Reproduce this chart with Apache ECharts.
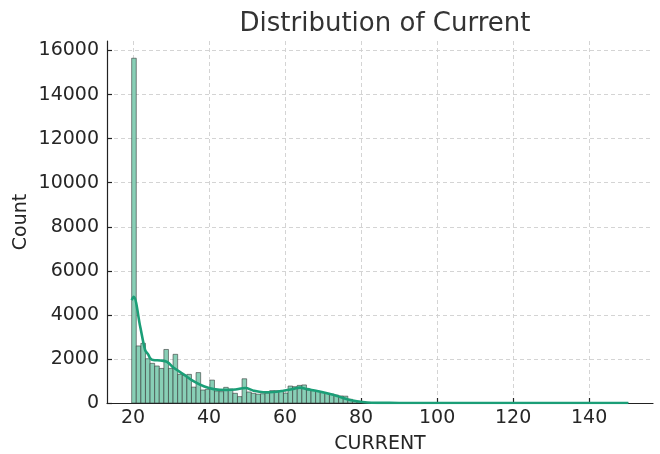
<!DOCTYPE html>
<html><head><meta charset="utf-8">
<script src="https://cdn.jsdelivr.net/npm/echarts@6/dist/echarts.min.js"></script>
<style>html,body{margin:0;padding:0;background:#fff}#c{width:660px;height:454px}</style>
</head><body><div id="c"></div>
<script>
const binStart = 19.65;
const binWidth = 1.21;
const counts = [15650, 2590, 2710, 2010, 1800, 1680, 1570, 2430, 1570, 2210,
  1300, 1260, 1300, 720, 1380, 590, 620, 1040, 545, 515,
  710, 635, 440, 290, 1100, 500, 440, 400, 420, 450,
  560, 560, 540, 450, 770, 740, 800, 820, 590, 560,
  530, 470, 440, 400, 360, 320, 310, 170, 90, 50,
  30, 20, 12, 8, 6, 5, 4, 4, 3, 3,
  3, 2, 2, 2, 2, 2, 2, 1, 1, 1,
  1, 1, 1, 1, 1, 1, 1, 1, 1, 1,
  1, 1, 1, 1, 1, 1, 1, 1, 1, 1,
  1, 1, 1, 1, 1, 1, 1, 1, 1, 1,
  1, 1, 1, 1, 1, 1, 1, 1];
const kdeX = [19.65, 20.16, 21.9, 23.2, 24.0, 24.55, 25.3, 27.2, 28.95, 30.7,
  33.3, 35.9, 38.6, 41.2, 44.7, 46.9, 49.55, 51.7, 54.3, 56.9,
  59.55, 62.2, 63.9, 65.8, 68.4, 71.05, 73.7, 76.3, 78.9, 81.6,
  85, 90, 100, 110, 120, 130, 140, 150.3];
const kdeY = [4670, 4820, 3460, 2400, 2200, 2030, 1950, 1930, 1870, 1600,
  1300, 990, 760, 630, 590, 610, 680, 560, 490, 500,
  560, 640, 700, 630, 545, 440, 320, 170, 80, 20,
  6, 3, 2, 2, 2, 2, 2, 2];
const xTicks = [20, 40, 60, 80, 100, 120, 140];
const yTicks = [0, 2000, 4000, 6000, 8000, 10000, 12000, 14000, 16000];

const FONT = 'DejaVu Sans';
const chart = echarts.init(document.getElementById('c'), null, {renderer: 'canvas'});
const barData = counts.map((c, i) => [binStart + i * binWidth, binStart + (i + 1) * binWidth, c]);
const lineData = kdeX.map((x, i) => [x, kdeY[i]]);
const plain = v => String(Math.round(v));

chart.setOption({
  animation: false,
  backgroundColor: '#fff',
  title: {
    text: 'Distribution of Current',
    left: 380, top: 6, textAlign: 'center',
    textStyle: {fontFamily: FONT, fontSize: 26, fontWeight: 'normal', color: '#333'}
  },
  grid: {left: 107, right: 7, top: 41, bottom: 51, containLabel: false, outerBoundsMode: 'none'},
  xAxis: {
    type: 'value', min: 13.16, max: 156.8,
    name: 'CURRENT', nameLocation: 'middle', nameGap: 32, nameMoveOverlap: false,
    nameTextStyle: {fontFamily: FONT, fontSize: 19, color: '#262626'},
    axisLine: {show: true, onZero: false, lineStyle: {color: '#222', width: 1.2}},
    axisTick: {show: true, inside: true, length: 5, customValues: xTicks, lineStyle: {color: '#222', width: 1.2}},
    axisLabel: {customValues: xTicks, formatter: plain, fontFamily: FONT, fontSize: 19, color: '#262626', margin: 6},
    splitLine: {show: true, lineStyle: {color: '#cfcfcf', type: [4, 3], width: 0.9}}
  },
  yAxis: {
    type: 'value', min: 0, max: 16432,
    name: 'Count', nameLocation: 'middle', nameGap: 76, nameMoveOverlap: false,
    nameTextStyle: {fontFamily: FONT, fontSize: 19, color: '#262626'},
    axisLine: {show: true, lineStyle: {color: '#222', width: 1.2}},
    axisTick: {show: true, inside: true, length: 5, customValues: yTicks, lineStyle: {color: '#222', width: 1.2}},
    axisLabel: {customValues: yTicks, formatter: plain, fontFamily: FONT, fontSize: 19, color: '#262626', margin: 8},
    splitLine: {show: true, lineStyle: {color: '#cfcfcf', type: [4, 3], width: 0.9}}
  },
  series: [
    {
      type: 'custom',
      data: barData,
      encode: {x: [0, 1], y: 2},
      z: 2,
      renderItem: function (params, api) {
        const p0 = api.coord([api.value(0), api.value(2)]);
        const p1 = api.coord([api.value(1), 0]);
        return {
          type: 'rect',
          shape: {x: p0[0], y: p0[1], width: p1[0] - p0[0], height: p1[1] - p0[1]},
          style: {fill: '#88cfb6', stroke: 'rgba(45,45,45,0.8)', lineWidth: 0.7}
        };
      }
    },
    {
      type: 'line',
      data: lineData,
      smooth: 0.35,
      symbol: 'none',
      z: 3,
      lineStyle: {color: '#1b9e77', width: 2.6}
    }
  ]
});
</script>
</body></html>
